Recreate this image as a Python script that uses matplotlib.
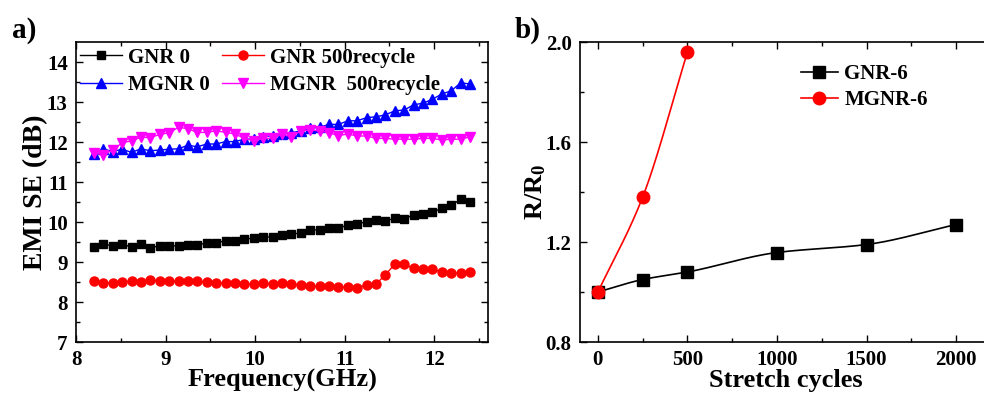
import numpy as np
import matplotlib
matplotlib.use('Agg')
import matplotlib.pyplot as plt

# ======================= DATA ============================================== #

freq = [8.200, 8.305, 8.410, 8.515, 8.620, 8.725, 8.830, 8.935, 9.040, 9.145,
        9.250, 9.355, 9.460, 9.565, 9.670, 9.775, 9.880, 9.985, 10.090, 10.195,
        10.300, 10.405, 10.510, 10.615, 10.720, 10.825, 10.930, 11.035, 11.140,
        11.245, 11.350, 11.455, 11.560, 11.665, 11.770, 11.875, 11.980, 12.085,
        12.190, 12.295, 12.400]

gnr_0 = [9.38, 9.44, 9.41, 9.45, 9.37, 9.44, 9.36, 9.40, 9.39, 9.41,
         9.42, 9.42, 9.48, 9.48, 9.53, 9.53, 9.58, 9.59, 9.62, 9.63,
         9.67, 9.69, 9.73, 9.80, 9.80, 9.86, 9.84, 9.93, 9.96, 10.00,
         10.04, 10.03, 10.09, 10.08, 10.18, 10.20, 10.25, 10.34, 10.42, 10.57,
         10.50]

gnr_500 = [8.53, 8.48, 8.47, 8.49, 8.53, 8.50, 8.56, 8.52, 8.52, 8.52,
           8.52, 8.52, 8.49, 8.47, 8.47, 8.48, 8.46, 8.44, 8.47, 8.45,
           8.47, 8.44, 8.43, 8.40, 8.39, 8.40, 8.37, 8.37, 8.35, 8.43,
           8.45, 8.68, 8.95, 8.94, 8.84, 8.82, 8.82, 8.75, 8.72, 8.72,
           8.76]

mgnr_0 = [11.70, 11.83, 11.76, 11.82, 11.74, 11.83, 11.78, 11.80, 11.82, 11.83,
          11.92, 11.88, 11.95, 11.95, 12.01, 12.01, 12.07, 12.07, 12.13, 12.16,
          12.20, 12.23, 12.28, 12.34, 12.37, 12.44, 12.44, 12.53, 12.53, 12.61,
          12.63, 12.68, 12.78, 12.80, 12.93, 12.97, 13.07, 13.20, 13.28, 13.48,
          13.45]

mgnr_500 = [11.73, 11.68, 11.80, 11.98, 12.03, 12.12, 12.11, 12.19, 12.23, 12.37,
            12.33, 12.24, 12.24, 12.28, 12.24, 12.20, 12.09, 12.03, 12.09, 12.09,
            12.20, 12.13, 12.28, 12.30, 12.28, 12.23, 12.16, 12.20, 12.15, 12.15,
            12.09, 12.09, 12.07, 12.07, 12.07, 12.09, 12.09, 12.05, 12.07, 12.07,
            12.13]

cycles_gnr = [0, 250, 500, 1000, 1500, 2000]
r_gnr = [1.0, 1.05, 1.08, 1.158, 1.19, 1.27]
cycles_mgnr = [0, 250, 500]
r_mgnr = [1.0, 1.38, 1.96]

# ============================ STYLE ======================================== #

plt.rcParams['font.family'] = 'Liberation Serif'
plt.rcParams['font.weight'] = 'bold'
plt.rcParams['axes.labelweight'] = 'bold'
plt.rcParams['mathtext.fontset'] = 'custom'
plt.rcParams['mathtext.rm'] = 'Liberation Serif:bold'
plt.rcParams['mathtext.bf'] = 'Liberation Serif:bold'
plt.rcParams['mathtext.it'] = 'Liberation Serif:bold'
plt.rcParams['xtick.direction'] = 'in'
plt.rcParams['ytick.direction'] = 'in'
plt.rcParams['xtick.top'] = True
plt.rcParams['ytick.right'] = True
plt.rcParams['axes.linewidth'] = 1.2


def pchip(x, y, n=200):
    # shape preserving cubic, only used to draw the smooth connecting line
    x = np.asarray(x, float)
    y = np.asarray(y, float)
    h = np.diff(x)
    d = np.diff(y) / h
    m = np.zeros_like(y)
    m[0], m[-1] = d[0], d[-1]
    for i in range(1, len(x) - 1):
        if d[i - 1] * d[i] > 0:
            w1 = 2 * h[i] + h[i - 1]
            w2 = h[i] + 2 * h[i - 1]
            m[i] = (w1 + w2) / (w1 / d[i - 1] + w2 / d[i])
    xs = np.linspace(x[0], x[-1], n)
    k = np.clip(np.searchsorted(x, xs) - 1, 0, len(x) - 2)
    t = (xs - x[k]) / h[k]
    h00 = 2 * t ** 3 - 3 * t ** 2 + 1
    h10 = t ** 3 - 2 * t ** 2 + t
    h01 = -2 * t ** 3 + 3 * t ** 2
    h11 = t ** 3 - t ** 2
    ys = h00 * y[k] + h10 * h[k] * m[k] + h01 * y[k + 1] + h11 * h[k] * m[k + 1]
    return xs, ys


def bold_ticks(ax):
    for lab in ax.get_xticklabels() + ax.get_yticklabels():
        lab.set_fontweight('bold')


fig = plt.figure(figsize=(9.84, 3.94), dpi=100)

# ============================ PANEL a) ===================================== #

ax1 = fig.add_axes([76 / 984, 52 / 394, 412 / 984, 300 / 394])
l1, = ax1.plot(freq, gnr_0, '-s', color='black', lw=1, ms=6, label='GNR 0')
l2, = ax1.plot(freq, gnr_500, '-o', color='red', lw=1, ms=6.5, label='GNR 500recycle')
l3, = ax1.plot(freq, mgnr_0, '-^', color='blue', lw=1, ms=7, label='MGNR 0')
l4, = ax1.plot(freq, mgnr_500, '-v', color='magenta', lw=1, ms=7, label='MGNR  500recycle')
ax1.set_xlim(8, 12.6)
ax1.set_ylim(7, 14.5)
ax1.set_xticks([8, 9, 10, 11, 12])
ax1.set_xticks(np.arange(8.5, 12.6, 1), minor=True)
ax1.set_yticks(range(7, 15))
ax1.set_yticks(np.arange(7.5, 14.5, 1), minor=True)
ax1.tick_params(which='major', length=5, width=1, labelsize=15, pad=6)
ax1.tick_params(which='minor', length=3, width=1)
bold_ticks(ax1)
ax1.set_xlabel('Frequency(GHz)', fontsize=19, labelpad=-1)
ax1.set_ylabel('EMI SE (dB)', fontsize=20, labelpad=-1)
ax1.legend([l1, l3, l2, l4], [l.get_label() for l in (l1, l3, l2, l4)],
           ncol=2, loc='upper left', bbox_to_anchor=(-0.025, 1.03),
           frameon=False, prop={'weight': 'bold', 'size': 15},
           handlelength=2.0, handletextpad=0.3, columnspacing=0.6,
           labelspacing=0.35, borderpad=0.2)

fig.text(12 / 984, 1 - 30 / 394, 'a)', fontsize=21, fontweight='bold',
         va='center', ha='left')

# ============================ PANEL b) ===================================== #

ax2 = fig.add_axes([580 / 984, 52 / 394, 412 / 984, 300 / 394])
xs, ys = pchip(cycles_gnr, r_gnr)
ax2.plot(xs, ys, '-', color='black', lw=1.2)
ax2.plot(cycles_gnr, r_gnr, 's', color='black', ms=8)
xs, ys = pchip(cycles_mgnr, r_mgnr)
ax2.plot(xs, ys, '-', color='red', lw=1.2)
ax2.plot(cycles_mgnr, r_mgnr, 'o', color='red', ms=9)
# legend proxies
ax2.plot([], [], '-s', color='black', lw=1.2, ms=8, label='GNR-6')
ax2.plot([], [], '-o', color='red', lw=1.2, ms=9, label='MGNR-6')
ax2.set_xlim(-100, 2200)
ax2.set_ylim(0.8, 2.0)
ax2.set_xticks([0, 500, 1000, 1500, 2000])
ax2.set_xticks([250, 750, 1250, 1750], minor=True)
ax2.set_yticks([0.8, 1.2, 1.6, 2.0])
ax2.set_yticks([1.0, 1.4, 1.8], minor=True)
ax2.yaxis.set_major_formatter(matplotlib.ticker.FormatStrFormatter('%.1f'))
ax2.tick_params(which='major', length=5, width=1, labelsize=15, pad=6)
ax2.tick_params(which='minor', length=3, width=1)
bold_ticks(ax2)
ax2.set_xlabel('Stretch cycles', fontsize=19, labelpad=-1)
ax2.set_ylabel(r'R/R$_\mathbf{0}$', fontsize=19, labelpad=-2)
ax2.legend(loc='upper left', bbox_to_anchor=(0.50, 0.975), frameon=False,
           prop={'weight': 'bold', 'size': 15}, handlelength=1.8,
           handletextpad=0.3, labelspacing=0.3, borderpad=0.2)

fig.text(515 / 984, 1 - 30 / 394, 'b)', fontsize=21, fontweight='bold',
         va='center', ha='left')

fig.savefig('out.png', dpi=100)
